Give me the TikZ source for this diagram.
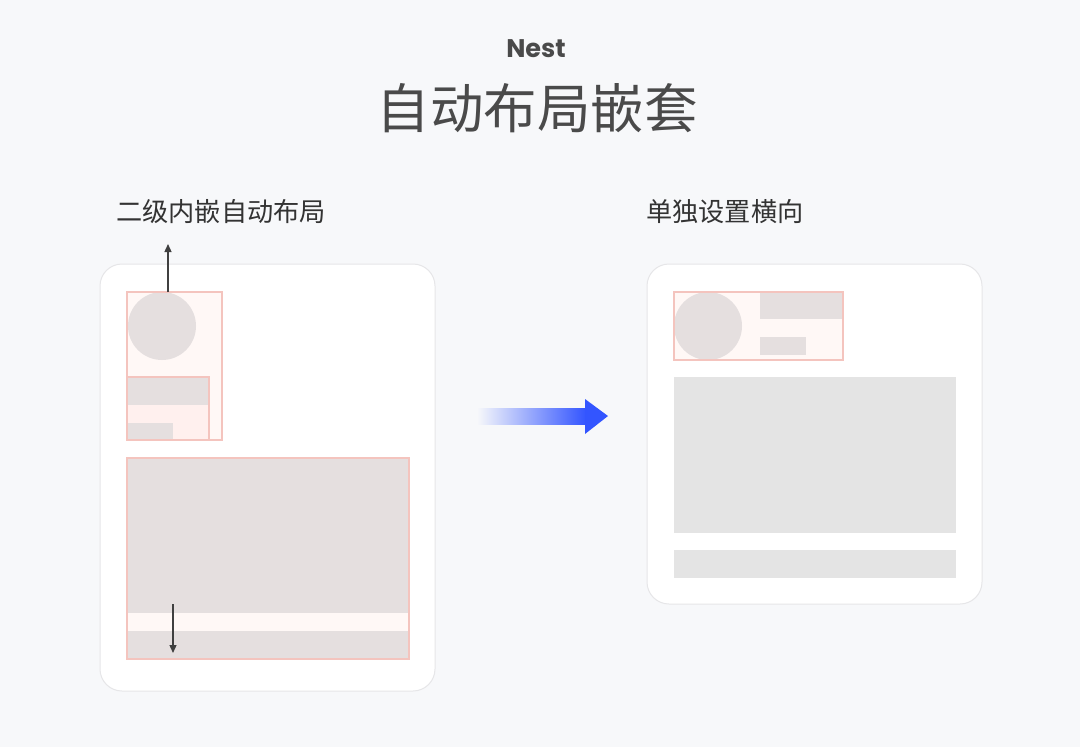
\documentclass[tikz,border=0pt]{standalone}
\usepackage{fontspec}
\setmainfont{Poppins}
\newfontfamily\cjk{Noto Sans CJK SC}
\usetikzlibrary{arrows.meta}
\definecolor{bgcol}{HTML}{F7F8FA}
\definecolor{cardline}{HTML}{E6E6E8}
\definecolor{pinkline}{HTML}{F4C4BE}
\definecolor{pinkfill}{HTML}{FFF8F6}
\definecolor{pinkfilltwo}{HTML}{FFF0EE}
\definecolor{mauve}{HTML}{E5DFDF}
\definecolor{greyblock}{HTML}{E4E4E4}
\definecolor{blueflow}{HTML}{3355FF}
\definecolor{textdark}{HTML}{4A4A4A}
\tikzset{
  card/.style = {draw=cardline, line width=1pt, fill=white, rounded corners=22pt,
    inner sep=0pt, outer sep=0pt, anchor=north west},
  block/.style = {inner sep=0pt, outer sep=0pt, anchor=north west},
  pinkbox/.style = {block, draw=pinkline, line width=1.5pt},
  pointer/.style = {-{Triangle[length=8pt,width=7pt]}, draw=black!75, line width=1.3pt},
  heading/.style = {font=\cjk\fontsize{26.2}{30}\selectfont, text=black!80, inner sep=0pt}
}
\begin{document}
\begin{tikzpicture}[x=1pt, y=-1pt]
  % background
  \fill[bgcol] (0,0) rectangle (1080,747);
  \useasboundingbox (0,0) rectangle (1080,747);

  % titles
  \node[text=textdark, font=\bfseries\fontsize{25.5}{30}\selectfont] (nest) at (536,49) {Nest};
  \node[text=textdark, font=\cjk\fontsize{53.5}{60}\selectfont] (title) at (537,108) {自动布局嵌套};
  \node[heading, anchor=west] (lefthead) at (116,212) {二级内嵌自动布局};
  \node[heading, anchor=west] (righthead) at (646,212) {单独设置横向};

  % left card: nested auto layout
  \node[card, minimum width=335pt, minimum height=427pt] (leftcard) at (100,264) {};
  \node[block, fill=pinkfill, minimum width=95pt, minimum height=148pt] (colfill) at (127,292) {};
  \fill[mauve] (162,326) circle (34);
  \node[block, fill=pinkfilltwo, minimum width=82pt, minimum height=63pt] (subfill) at (127,377) {};
  \node[block, fill=mauve, minimum width=82pt, minimum height=28pt] (subbar) at (127,377) {};
  \node[block, fill=mauve, minimum width=46pt, minimum height=17pt] (subshort) at (127,423) {};
  \node[pinkbox, minimum width=82pt, minimum height=63pt] (sub) at (127,377) {};
  \node[pinkbox, minimum width=95pt, minimum height=148pt] (col) at (127,292) {};
  \node[block, fill=mauve, minimum width=282pt, minimum height=201pt] (bigfill) at (127,458) {};
  \node[block, fill=pinkfill, minimum width=282pt, minimum height=18pt] (stripe) at (127,613) {};
  \node[pinkbox, minimum width=282pt, minimum height=201pt] (big) at (127,458) {};
  \coordinate (uptip) at (168,244);
  \coordinate (downstart) at (173,604);
  \coordinate (downtip) at (173,653);
  \draw[pointer] (col.north west -| uptip) -- (uptip);
  \draw[pointer] (downstart) -- (downtip);

  % flow arrow
  \shade[left color=bgcol, right color=blueflow] (477,408) rectangle (586,424);
  \fill[blueflow] (585,399) -- (608,416) -- (585,434) -- cycle;

  % right card: horizontal
  \node[card, minimum width=335pt, minimum height=340pt] (rightcard) at (647,264) {};
  \node[block, fill=pinkfill, minimum width=169pt, minimum height=68pt] (rowfill) at (674,292) {};
  \fill[mauve] (708,326) circle (34);
  \node[block, fill=mauve, minimum width=83pt, minimum height=27pt] (rowbar) at (760,292) {};
  \node[block, fill=mauve, minimum width=46pt, minimum height=18pt] (rowshort) at (760,337) {};
  \node[pinkbox, minimum width=169pt, minimum height=68pt] (row) at (674,292) {};
  \node[block, fill=greyblock, minimum width=282pt, minimum height=156pt] (image) at (674,377) {};
  \node[block, fill=greyblock, minimum width=282pt, minimum height=28pt] (footer) at (674,550) {};
\end{tikzpicture}
\end{document}
